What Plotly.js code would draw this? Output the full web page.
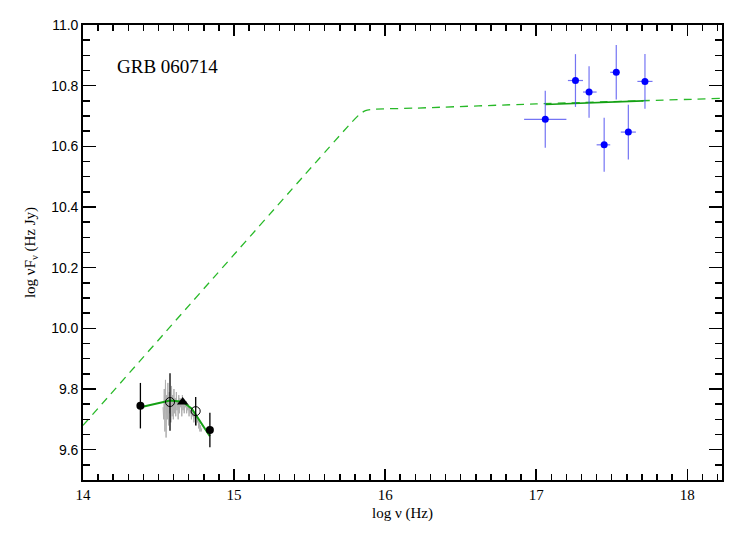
<!DOCTYPE html>
<html>
<head>
<meta charset="utf-8">
<script src="https://cdn.plot.ly/plotly-3.0.1.min.js"></script>
<style>html,body{margin:0;padding:0;background:#fff;}#chart{width:747px;height:534px;}</style>
</head>
<body>
<div id="chart"></div>
<script>
// Model (dashed broken power law)
var modelX = [14.0, 15.78, 15.83, 15.87, 15.92, 16.2, 17.0, 18.23];
var modelY = [9.68, 10.68, 10.705, 10.718, 10.722, 10.726, 10.74, 10.758];

// Optical/NIR fit (solid green)
var optFitX = [14.38, 14.576, 14.66, 14.72, 14.84];
var optFitY = [9.74, 9.762, 9.758, 9.735, 9.644];

// X-ray fit (solid green)
var xFitX = [17.06, 17.71];
var xFitY = [10.738, 10.75];

// Filled black circles
var fcX = [14.38, 14.84];
var fcY = [9.745, 9.665];
var fcErr = [0.075, 0.057];

// Open circles
var ocX = [14.576, 14.746];
var ocY = [9.757, 9.727];
var ocErr = [0.095, 0.047];

// Triangle
var trX = [14.66];
var trY = [9.757];

// Grey optical spectrum
var specX = [14.530,14.534,14.538,14.542,14.546,14.550,14.554,14.558,14.562,14.566,14.570,14.574,14.578,14.582,14.586,14.590,14.594,14.598,14.602,14.606,14.610,14.614,14.618,14.622,14.626,14.630,14.634,14.638,14.642,14.646,14.650,14.654,14.658,14.662,14.666,14.670,14.674,14.678,14.682,14.686,14.690,14.694,14.698,14.702,14.706,14.710,14.714,14.718,14.722,14.726,14.730,14.734,14.738,14.742,14.746,14.750,14.754,14.758,14.762,14.766,14.770,14.774,14.778,14.782,14.786];
var specY = [9.74,9.70,9.80,9.66,9.83,9.64,9.78,9.70,9.82,9.68,9.79,9.72,9.77,9.69,9.81,9.71,9.78,9.70,9.80,9.72,9.77,9.71,9.79,9.73,9.76,9.70,9.78,9.72,9.77,9.74,9.76,9.71,9.78,9.73,9.76,9.72,9.75,9.74,9.76,9.72,9.74,9.73,9.75,9.71,9.74,9.72,9.73,9.70,9.74,9.71,9.73,9.69,9.72,9.70,9.72,9.68,9.71,9.69,9.70,9.67,9.69,9.66,9.68,9.66,9.67];

// X-ray points
var xrX = [17.06, 17.26, 17.35, 17.45, 17.53, 17.61, 17.72];
var xrY = [10.689, 10.817, 10.779, 10.605, 10.844, 10.647, 10.814];
var xrYerr = [0.094, 0.087, 0.085, 0.089, 0.09, 0.09, 0.09];
var xrXlo = [0.14, 0.05, 0.04, 0.05, 0.04, 0.05, 0.05];
var xrXhi = [0.14, 0.05, 0.05, 0.04, 0.02, 0.05, 0.05];

var traces = [
  {x: modelX, y: modelY, mode: 'lines', line: {color: 'rgb(40,185,40)', width: 1.3, dash: '8px,6px', shape: 'spline', smoothing: 0.6}, hoverinfo: 'skip'},
  {x: specX, y: specY, mode: 'lines', line: {color: 'rgb(175,175,175)', width: 1}, hoverinfo: 'skip'},
  {x: optFitX, y: optFitY, mode: 'lines', line: {color: 'rgb(20,160,20)', width: 2}},
  {x: xFitX, y: xFitY, mode: 'lines', line: {color: 'rgb(20,160,20)', width: 1.6}},
  {x: fcX, y: fcY, mode: 'markers', marker: {symbol: 'circle', size: 8, color: 'black'},
   error_y: {type: 'data', array: fcErr, color: 'black', thickness: 1.3, width: 0}},
  {x: ocX, y: ocY, mode: 'markers', marker: {symbol: 'circle-open', size: 9, color: 'black', line: {width: 1}},
   error_y: {type: 'data', array: ocErr, color: 'black', thickness: 1.3, width: 0}},
  {x: trX, y: trY, mode: 'markers', marker: {symbol: 'triangle-up', size: 10, color: 'black'}},
  {x: xrX, y: xrY, mode: 'markers', marker: {symbol: 'circle', size: 7, color: 'rgb(0,0,255)'},
   error_y: {type: 'data', array: xrYerr, color: 'rgba(70,70,240,0.75)', thickness: 1.2, width: 0},
   error_x: {type: 'data', symmetric: false, array: xrXhi, arrayminus: xrXlo, color: 'rgba(70,70,240,0.75)', thickness: 1.2, width: 0}}
];

var layout = {
  width: 747, height: 534,
  margin: {l: 83, r: 25, t: 25, b: 54},
  paper_bgcolor: 'white', plot_bgcolor: 'white',
  showlegend: false,
  xaxis: {
    range: [14, 18.23], dtick: 1, tick0: 14,
    ticks: 'inside', ticklen: 11, tickwidth: 1.5, tickcolor: 'black',
    minor: {dtick: 0.1, ticks: 'inside', ticklen: 6, tickwidth: 1.5, tickcolor: 'black'},
    showline: true, linecolor: 'black', linewidth: 1.8, mirror: 'allticks',
    showgrid: false, zeroline: false,
    tickfont: {family: 'Liberation Serif', size: 15, color: 'black'},
    title: {text: 'log \u03bd (Hz)', font: {family: 'Liberation Serif', size: 15, color: 'black'}, standoff: 6}
  },
  yaxis: {
    range: [9.5, 11.0], dtick: 0.2, tick0: 9.6, tickformat: '.1f',
    ticks: 'inside', ticklen: 13, tickwidth: 1.5, tickcolor: 'black',
    minor: {dtick: 0.05, ticks: 'inside', ticklen: 7, tickwidth: 1.5, tickcolor: 'black'},
    showline: true, linecolor: 'black', linewidth: 1.8, mirror: 'allticks',
    showgrid: false, zeroline: false,
    tickfont: {family: 'Liberation Sans', size: 14, color: 'black'},
    title: {text: 'log \u03bdF<sub>\u03bd</sub> (Hz Jy)', font: {family: 'Liberation Serif', size: 15, color: 'black'}, standoff: 12}
  },
  annotations: [
    {text: 'GRB 060714', xref: 'paper', yref: 'paper', x: (115-83)/639, y: 1-(66-25)/455,
     xanchor: 'left', yanchor: 'middle', showarrow: false,
     font: {family: 'Liberation Serif', size: 19, color: 'black'}}
  ]
};

Plotly.newPlot('chart', traces, layout, {displayModeBar: false, staticPlot: true});
</script>
</body>
</html>
